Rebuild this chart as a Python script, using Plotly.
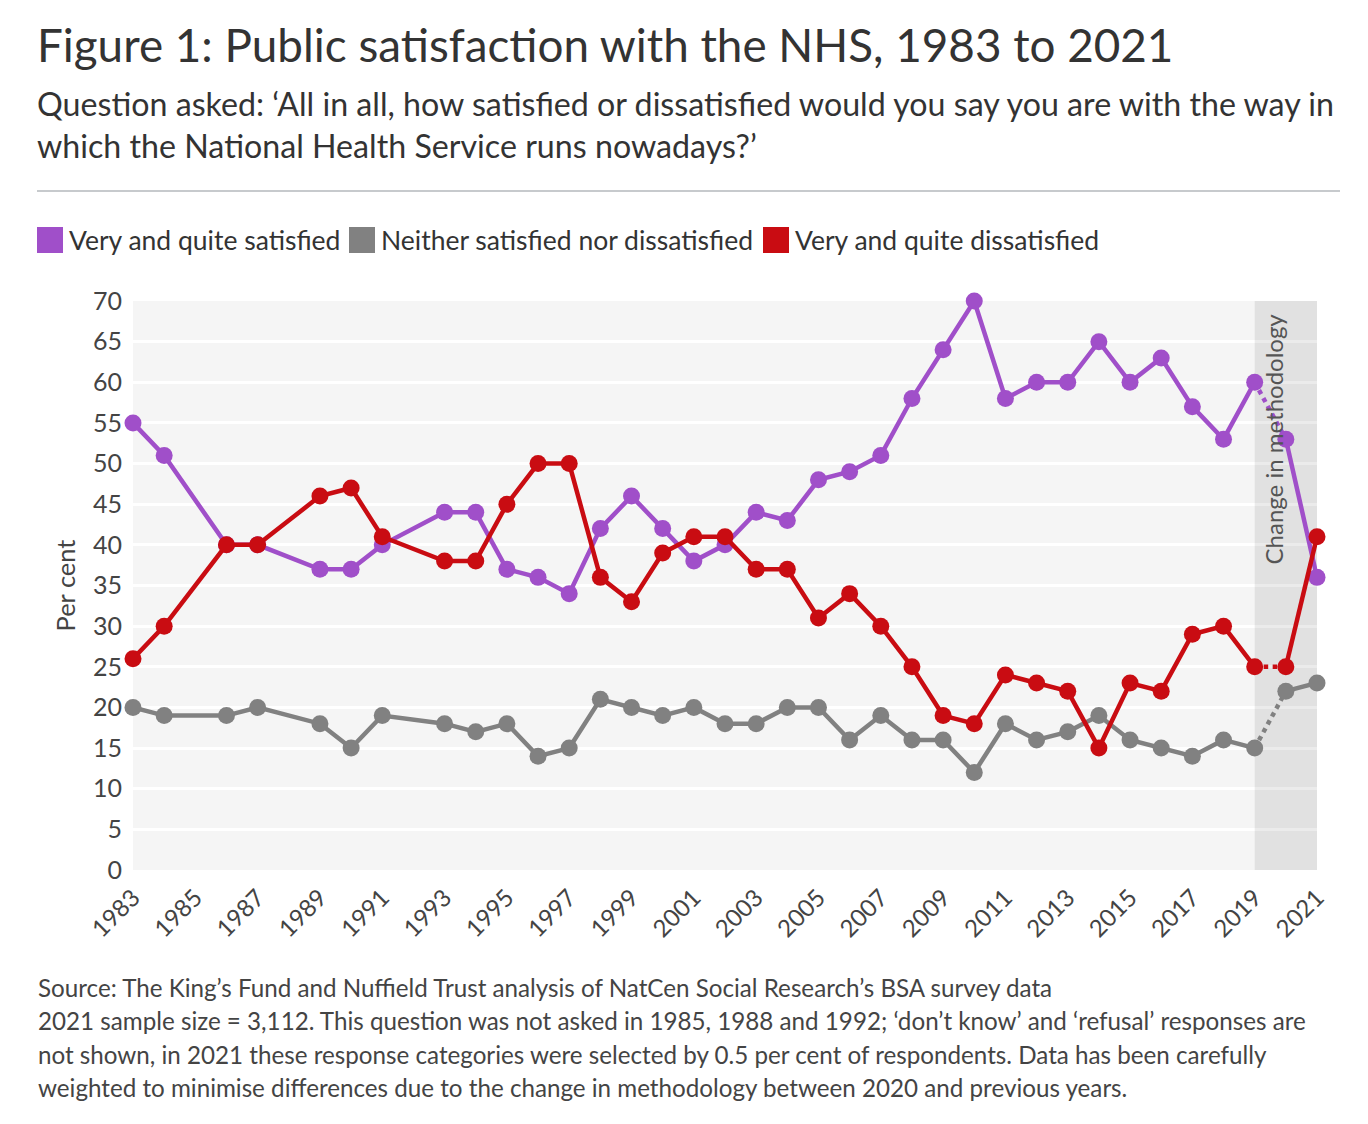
import plotly.graph_objects as go

# Survey years (not asked in 1985, 1988, 1992)
years = [1983, 1984, 1986, 1987, 1989, 1990, 1991, 1993, 1994, 1995, 1996, 1997,
         1998, 1999, 2000, 2001, 2002, 2003, 2004, 2005, 2006, 2007, 2008, 2009,
         2010, 2011, 2012, 2013, 2014, 2015, 2016, 2017, 2018, 2019, 2020, 2021]

satisfied = [55, 51, 40, 40, 37, 37, 40, 44, 44, 37, 36, 34,
             42, 46, 42, 38, 40, 44, 43, 48, 49, 51, 58, 64,
             70, 58, 60, 60, 65, 60, 63, 57, 53, 60, 53, 36]

neither = [20, 19, 19, 20, 18, 15, 19, 18, 17, 18, 14, 15,
           21, 20, 19, 20, 18, 18, 20, 20, 16, 19, 16, 16,
           12, 18, 16, 17, 19, 16, 15, 14, 16, 15, 22, 23]

dissatisfied = [26, 30, 40, 40, 46, 47, 41, 38, 38, 45, 50, 50,
                36, 33, 39, 41, 41, 37, 37, 31, 34, 30, 25, 19,
                18, 24, 23, 22, 15, 23, 22, 29, 30, 25, 25, 41]

series_names = ["Very and quite satisfied", "Neither satisfied nor dissatisfied",
                "Very and quite dissatisfied"]
series_values = [satisfied, neither, dissatisfied]
series_colors = ["#a04fc9", "#818181", "#c90c12"]

method_change_year = 2020
x_ticks = list(range(1983, 2022, 2))

FONT = "Lato"
TEXT = "#333333"

fig = go.Figure()

for name, vals, col in zip(series_names, series_values, series_colors):
    old_x = [y for y in years if y < method_change_year]
    old_y = [v for y, v in zip(years, vals) if y < method_change_year]
    new_x = [y for y in years if y >= method_change_year]
    new_y = [v for y, v in zip(years, vals) if y >= method_change_year]
    # dotted bridge across the methodology change
    fig.add_trace(go.Scatter(x=[old_x[-1], new_x[0]], y=[old_y[-1], new_y[0]],
                             mode="lines", line=dict(color=col, width=4.5, dash="dot"),
                             showlegend=False, hoverinfo="skip", cliponaxis=False))
    for xs, ys in [(old_x, old_y), (new_x, new_y)]:
        fig.add_trace(go.Scatter(x=xs, y=ys, mode="lines+markers", name=name,
                                 line=dict(color=col, width=4.5),
                                 marker=dict(color=col, size=17),
                                 showlegend=False, cliponaxis=False))

# shaded band for methodology change
fig.add_shape(type="rect", xref="x", yref="y", x0=2019, x1=2021, y0=0, y1=70,
              fillcolor="rgba(0,0,0,0.08)", line=dict(width=0), layer="between")
fig.add_annotation(x=2019.6, y=68.7, xref="x", yref="y", text="Change in methodology",
                   textangle=-90, xanchor="center", yanchor="top", showarrow=False,
                   font=dict(family=FONT, size=24, color="#555555"))

# helpers to place page elements in paper coordinates (plot area 133..1317 x 301..870 on screen)
def px(x):
    return (x - 133) / 1184

def py(y):
    return (870 - y) / 569

fig.add_annotation(x=px(35), y=py(44), xref="paper", yref="paper", xanchor="left",
                   yanchor="middle", showarrow=False,
                   text="Figure 1: Public satisfaction with the NHS, 1983 to 2021",
                   font=dict(family=FONT, size=45.8, color=TEXT))
subtitle = ["Question asked: ‘All in all, how satisfied or dissatisfied would you say you are with the way in",
            "which the National Health Service runs nowadays?’"]
for i, line in enumerate(subtitle):
    fig.add_annotation(x=px(35), y=py(104 + 41 * i), xref="paper", yref="paper",
                       xanchor="left", yanchor="middle", showarrow=False, text=line,
                       font=dict(family=FONT, size=32.2, color=TEXT))

fig.add_shape(type="line", xref="paper", yref="paper", x0=px(37), x1=px(1340),
              y0=py(191), y1=py(191), line=dict(color="#b5b9bd", width=1.5))

# legend
legend_x = [37, 349, 763]
for lx, name, col in zip(legend_x, series_names, series_colors):
    fig.add_shape(type="rect", xref="paper", yref="paper", x0=px(lx), x1=px(lx + 26),
                  y0=py(253), y1=py(227), fillcolor=col, line=dict(width=0))
    fig.add_annotation(x=px(lx + 30), y=py(240), xref="paper", yref="paper",
                       xanchor="left", yanchor="middle", showarrow=False, text=name,
                       font=dict(family=FONT, size=26.5, color=TEXT))

footnotes = ["Source: The King’s Fund and Nuffield Trust analysis of NatCen Social Research’s BSA survey data",
             "2021 sample size = 3,112. This question was not asked in 1985, 1988 and 1992; ‘don’t know’ and ‘refusal’ responses are",
             "not shown, in 2021 these response categories were selected by 0.5 per cent of respondents. Data has been carefully",
             "weighted to minimise differences due to the change in methodology between 2020 and previous years."]
for i, line in enumerate(footnotes):
    fig.add_annotation(x=px(36), y=py(987 + 33.5 * i), xref="paper", yref="paper",
                       xanchor="left", yanchor="middle", showarrow=False, text=line,
                       font=dict(family=FONT, size=24.2, color="#444444"))

# page has an 8px body margin, so the figure is drawn 8px in from the screen edge
fig.update_layout(
    width=1352, height=1108,
    margin=dict(l=125, r=43, t=293, b=246),
    paper_bgcolor="white", plot_bgcolor="#f5f5f5",
    font=dict(family=FONT, color="#444444"),
    showlegend=False,
    xaxis=dict(range=[1983, 2021], tickvals=x_ticks, tickangle=-45,
               showgrid=False, zeroline=False, showline=False,
               ticks="outside", ticklen=3, tickcolor="rgba(0,0,0,0)",
               tickfont=dict(size=24, color="#444444")),
    yaxis=dict(range=[0, 70], dtick=5, gridcolor="white", gridwidth=2.5,
               zeroline=False, showline=False,
               ticks="outside", ticklen=5, tickcolor="rgba(0,0,0,0)",
               tickfont=dict(size=25, color="#444444"),
               title=dict(text="Per cent", standoff=10,
                          font=dict(size=25.5, color="#444444"))),
)

fig.write_html("out.html")
